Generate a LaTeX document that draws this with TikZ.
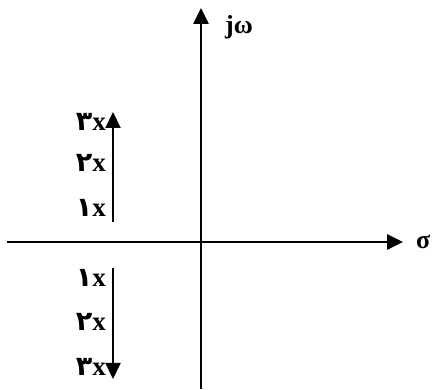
\documentclass[tikz,border=0pt]{standalone}
\usepackage{fontspec}
\setmainfont{Liberation Serif}
\newfontfamily\persfont{DejaVu Sans}
\usetikzlibrary{arrows.meta, positioning}

\begin{document}
\begin{tikzpicture}[
    x=1pt, y=-1pt,
    axis/.style={-{Triangle[length=16pt, width=15pt]}, line width=2.6pt},
    vec/.style={-{Triangle[length=16pt, width=15pt]}, line width=2.2pt},
    lbl/.style={anchor=east, inner sep=0pt, font=\fontsize{27}{30}\selectfont\bfseries},
    axlbl/.style={anchor=west, inner sep=0pt, font=\fontsize{26}{30}\selectfont\bfseries}
  ]
    \useasboundingbox (0,0) rectangle (432,390);

    % axes
    \coordinate (left)   at (7,242);
    \coordinate (right)  at (403,242);
    \coordinate (bottom) at (201,389);
    \coordinate (top)    at (201,8);
    \draw[axis] (left) -- (right);
    \draw[axis] (bottom) -- (top);
    \node[axlbl] (sigma) at (416,242) {σ};
    \node[axlbl] (jw)    at (225,27)  {jω};

    % upper arrow
    \coordinate (ua) at (113,222);
    \coordinate (ub) at (113,112);
    \draw[vec] (ua) -- (ub);
    \node[lbl] (u3) at (106,122) {{\persfont ۳}x};
    \node[lbl] (u2) at (106,163) {{\persfont ۲}x};
    \node[lbl] (u1) at (106,208) {{\persfont ۱}x};

    % lower arrow
    \coordinate (la) at (113,268);
    \coordinate (lb) at (113,379);
    \draw[vec] (la) -- (lb);
    \node[lbl] (l1) at (106,278) {{\persfont ۱}x};
    \node[lbl] (l2) at (106,322) {{\persfont ۲}x};
    \node[lbl] (l3) at (106,367) {{\persfont ۳}x};
\end{tikzpicture}
\end{document}
